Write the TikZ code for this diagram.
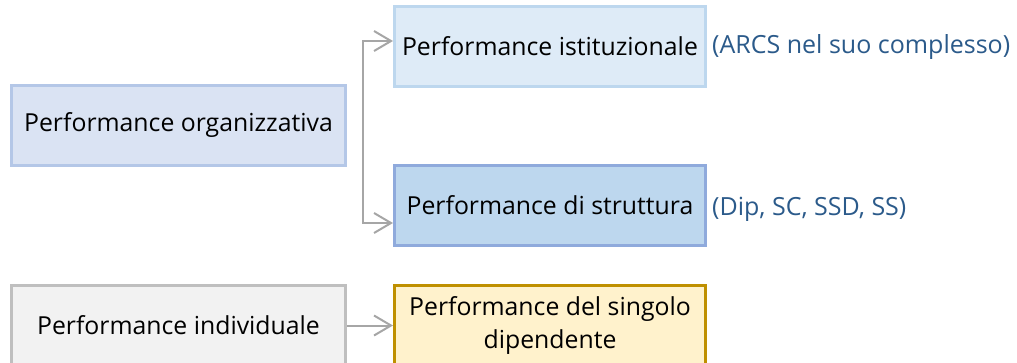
\documentclass[tikz,border=0pt]{standalone}
\usepackage{fontspec}
\setmainfont{Open Sans}
\usetikzlibrary{arrows.meta,positioning}
\definecolor{orgfill}{HTML}{DAE3F3}\definecolor{orgline}{HTML}{B4C7E7}
\definecolor{istfill}{HTML}{DEEBF7}\definecolor{istline}{HTML}{BDD7EE}
\definecolor{strfill}{HTML}{BDD7EE}\definecolor{strline}{HTML}{8FAADC}
\definecolor{indfill}{HTML}{F2F2F2}\definecolor{indline}{HTML}{BFBFBF}
\definecolor{dipfill}{HTML}{FFF2CC}\definecolor{dipline}{HTML}{BF9000}
\definecolor{linkgray}{HTML}{A6A6A6}
\definecolor{labblue}{HTML}{2B5A8A}

\begin{document}
\begin{tikzpicture}[x=1pt,y=-1pt,
  box/.style={draw,line width=3pt,minimum height=80pt,inner sep=0pt,
    align=center,font=\fontsize{24.8}{33}\selectfont},
  wide/.style={box,minimum width=334pt},
  narrow/.style={box,minimum width=311pt},
  lbl/.style={text=labblue,inner sep=0pt,anchor=west,font=\fontsize{25}{28}\selectfont},
  link/.style={draw=linkgray,line width=2pt},
  barb/.tip={Straight Barb[length=17pt,width=20pt]}]
\useasboundingbox (0,0) rectangle (1017,362);
% boxes
\node[wide,fill=orgfill,draw=orgline] (org) at (178.5,125) {Performance organizzativa};
\node[narrow,fill=istfill,draw=istline] (ist) at (550,46) {Performance istituzionale};
\node[narrow,fill=strfill,draw=strline] (str) at (550,205) {Performance di struttura};
\node[wide,fill=indfill,draw=indline] (ind) at (178.5,325.5) {Performance individuale};
\node[narrow,fill=dipfill,draw=dipline] (dip) at (550,325.5) {Performance del singolo\\dipendente};
% side notes
\node[lbl] (arcs) at ([xshift=5pt,yshift=-1pt]ist.east) {(ARCS nel suo complesso)};
\node[lbl] (sedi) at ([xshift=5pt,yshift=-4pt]str.east) {(Dip, SC, SSD, SS)};
% connectors
\coordinate (t) at (363,41);
\coordinate (b) at (363,223);
\draw[link,barb-barb] (t -| ist.west) -- (t) -- (b) -- (b -| str.west);
\draw[link,-barb] (ind) -- (dip);
\end{tikzpicture}
\end{document}
